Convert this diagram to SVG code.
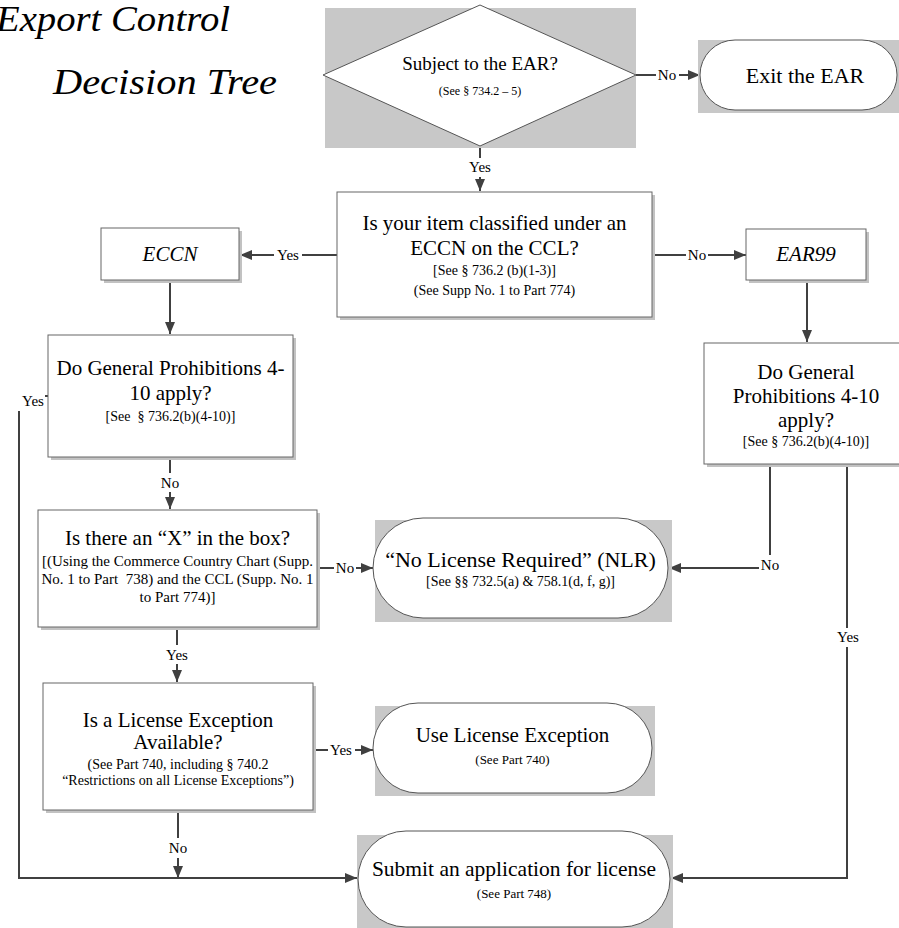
<svg xmlns="http://www.w3.org/2000/svg" width="899" height="928" viewBox="0 0 899 928">
<defs>
<marker id="arr" markerWidth="12" markerHeight="10" refX="12" refY="5" orient="auto" markerUnits="userSpaceOnUse"><path d="M0,0 L12,5 L0,10 z" fill="#404040"/></marker>
</defs>
<style>
text{font-family:"Liberation Serif","Times New Roman",serif;fill:#000;text-anchor:middle}
.t{font-size:21px}
.s{font-size:14px}
.xs{font-size:13px}
.it{font-style:italic}
.lbl{font-size:15px}
.box{fill:#fff;stroke:#666;stroke-width:1}
.shd{fill:#c2c2c2}
.bg{fill:#c8c8c8}
.term{fill:#fff;stroke:#555;stroke-width:1}
.c{fill:none;stroke:#404040;stroke-width:2}
.a{marker-end:url(#arr)}
</style>
<rect width="899" height="928" fill="#fff"/>
<g id="title">
<text class="it" x="-4" y="31" font-size="36" textLength="234" lengthAdjust="spacingAndGlyphs" style="text-anchor:start">Export Control</text>
<text class="it" x="53" y="94" font-size="36" textLength="224" lengthAdjust="spacingAndGlyphs" style="text-anchor:start">Decision Tree</text>
</g>
<g id="connectors">
<line class="c" x1="480" y1="146" x2="480" y2="158"/>
<line class="c a" x1="480" y1="177" x2="480" y2="191"/>
<line class="c" x1="636" y1="75" x2="656" y2="75"/>
<line class="c a" x1="679" y1="75" x2="700" y2="75"/>
<line class="c" x1="337" y1="255" x2="302" y2="255"/>
<line class="c a" x1="274" y1="255" x2="240" y2="255"/>
<line class="c" x1="652" y1="255" x2="686" y2="255"/>
<line class="c a" x1="708" y1="255" x2="746" y2="255"/>
<line class="c a" x1="170" y1="280" x2="170" y2="334"/>
<line class="c a" x1="807" y1="280" x2="807" y2="342"/>
<line class="c" x1="170" y1="457" x2="170" y2="473"/>
<line class="c a" x1="170" y1="492" x2="170" y2="509"/>
<line class="c" x1="48" y1="396" x2="45" y2="396"/>
<polyline class="c a" points="19,411 19,878 357,878"/>
<line class="c" x1="317" y1="568" x2="334" y2="568"/>
<line class="c a" x1="356" y1="568" x2="373" y2="568"/>
<line class="c" x1="770" y1="465" x2="770" y2="555"/>
<line class="c a" x1="759" y1="568" x2="669" y2="568"/>
<line class="c" x1="847" y1="465" x2="847" y2="628"/>
<polyline class="c a" points="847,647 847,878 671,878"/>
<line class="c" x1="177" y1="627" x2="177" y2="645"/>
<line class="c a" x1="177" y1="664" x2="177" y2="682"/>
<line class="c" x1="313" y1="750" x2="328" y2="750"/>
<line class="c a" x1="355" y1="750" x2="373" y2="750"/>
<line class="c" x1="178" y1="810" x2="178" y2="838"/>
<line class="c a" x1="178" y1="858" x2="178" y2="878"/>
<text class="lbl" x="480" y="172">Yes</text>
<text class="lbl" x="667" y="80">No</text>
<text class="lbl" x="288" y="260">Yes</text>
<text class="lbl" x="697" y="260">No</text>
<text class="lbl" x="170" y="488">No</text>
<text class="lbl" x="33" y="406">Yes</text>
<text class="lbl" x="345" y="573">No</text>
<text class="lbl" x="770" y="570">No</text>
<text class="lbl" x="848" y="642">Yes</text>
<text class="lbl" x="177" y="660">Yes</text>
<text class="lbl" x="341" y="755">Yes</text>
<text class="lbl" x="178" y="853">No</text>
</g>
<g id="n-subject">
<rect class="bg" x="325" y="8" width="311" height="140"/>
<polygon class="term" points="323,75 480,5 636,75 480,146"/>
<text x="480" y="70" style="font-size:19px">Subject to the EAR?</text>
<text x="480" y="95" style="font-size:12px">(See § 734.2 – 5)</text>
</g>
<g id="n-exit">
<rect class="bg" x="698" y="40" width="201" height="73"/>
<rect class="term" x="700" y="40" width="197" height="70" rx="35" ry="35"/>
<text x="805" y="83" style="font-size:22px">Exit the EAR</text>
</g>
<g id="n-classify">
<rect class="shd" x="340" y="195" width="315" height="125"/>
<rect class="box" x="337" y="192" width="315" height="125"/>
<text class="t" x="494.5" y="230">Is your item classified under an</text>
<text class="t" x="494.5" y="255">ECCN on the CCL?</text>
<text class="s" x="494.5" y="275">[See § 736.2 (b)(1-3)]</text>
<text class="s" x="494.5" y="295">(See Supp No. 1 to Part 774)</text>
</g>
<g id="n-eccn">
<rect class="shd" x="104" y="231" width="138" height="52"/>
<rect class="box" x="101" y="228" width="138" height="52"/>
<text class="t it" x="170" y="261">ECCN</text>
</g>
<g id="n-ear99">
<rect class="shd" x="749" y="232" width="120" height="51"/>
<rect class="box" x="746" y="229" width="120" height="51"/>
<text class="t it" x="806" y="261">EAR99</text>
</g>
<g id="n-gp-left">
<rect class="shd" x="51" y="338" width="245" height="122"/>
<rect class="box" x="48" y="335" width="245" height="122"/>
<text class="t" x="170.5" y="375">Do General Prohibitions 4-</text>
<text class="t" x="170.5" y="400">10 apply?</text>
<text class="s" x="170.5" y="421">[See&#160; § 736.2(b)(4-10)]</text>
</g>
<g id="n-gp-right">
<rect class="shd" x="707" y="346" width="204" height="121"/>
<rect class="box" x="704" y="343" width="204" height="121"/>
<text class="t" x="806" y="379">Do General</text>
<text class="t" x="806" y="403">Prohibitions 4-10</text>
<text class="t" x="806" y="427">apply?</text>
<text class="s" x="806" y="446">[See § 736.2(b)(4-10)]</text>
</g>
<g id="n-xbox">
<rect class="shd" x="41" y="513" width="279" height="117"/>
<rect class="box" x="38" y="510" width="279" height="117"/>
<text class="t" x="177.5" y="545">Is there an “X” in the box?</text>
<text style="font-size:15px" x="177.5" y="566">[(Using the Commerce Country Chart (Supp.</text>
<text style="font-size:15px" x="177.5" y="584">No. 1 to Part&#160; 738) and the CCL (Supp. No. 1</text>
<text style="font-size:15px" x="177.5" y="602">to Part 774)]</text>
</g>
<g id="n-nlr">
<rect class="bg" x="375" y="520" width="297" height="102"/>
<rect class="term" x="373" y="518" width="295" height="100" rx="50" ry="50"/>
<text x="520.5" y="567" style="font-size:22px">“No License Required” (NLR)</text>
<text class="s" x="520.5" y="586">[See §§ 732.5(a) &amp; 758.1(d, f, g)]</text>
</g>
<g id="n-le">
<rect class="shd" x="46" y="686" width="270" height="127"/>
<rect class="box" x="43" y="683" width="270" height="127"/>
<text class="t" x="178" y="727">Is a License Exception</text>
<text class="t" x="178" y="749">Available?</text>
<text class="s" x="178" y="769">(See Part 740, including § 740.2</text>
<text class="s" x="178" y="785">“Restrictions on all License Exceptions”)</text>
</g>
<g id="n-usele">
<rect class="bg" x="375" y="706" width="280" height="90"/>
<rect class="term" x="373" y="703" width="279" height="90" rx="45" ry="45"/>
<text class="t" x="512.5" y="742">Use License Exception</text>
<text class="xs" x="512.5" y="764">(See Part 740)</text>
</g>
<g id="n-submit">
<rect class="bg" x="357" y="835" width="316" height="93"/>
<rect class="term" x="358" y="831" width="312" height="96" rx="48" ry="48"/>
<text x="514" y="876" style="font-size:21.5px">Submit an application for license</text>
<text class="xs" x="514" y="898">(See Part 748)</text>
</g>
</svg>
